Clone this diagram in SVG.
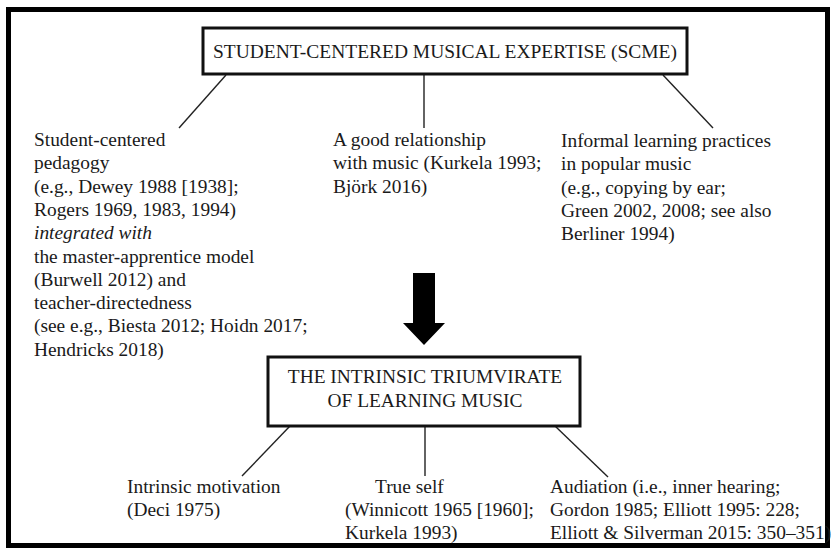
<svg xmlns="http://www.w3.org/2000/svg" width="832" height="550" viewBox="0 0 832 550">
<style>
text{font-family:"Liberation Serif","Times New Roman",serif;font-size:19.4px;fill:#1a1a1a}
.c{text-anchor:middle}
.box{fill:#fff;stroke:#111;stroke-width:3}
.ln{stroke:#222;stroke-width:1.4;fill:none}
</style>
<rect x="0" y="0" width="832" height="550" fill="#fff"/>
<rect x="8.5" y="9.5" width="819" height="536" fill="none" stroke="#000" stroke-width="5"/>
<g id="connectors">
<line class="ln" x1="226" y1="75" x2="179" y2="128"/>
<line class="ln" x1="424" y1="75" x2="424" y2="128"/>
<line class="ln" x1="663" y1="75" x2="713" y2="128"/>
<polygon points="413,273 435,273 435,323 445,323 424,345 403,323 413,323" fill="#000"/>
<line class="ln" x1="290" y1="426" x2="242" y2="476"/>
<line class="ln" x1="425" y1="426" x2="425" y2="476"/>
<line class="ln" x1="555" y1="426" x2="608" y2="477"/>
</g>
<g id="scme">
<rect class="box" x="203" y="28" width="484" height="46"/>
<text class="c" x="445" y="58" textLength="464" lengthAdjust="spacingAndGlyphs">STUDENT-CENTERED MUSICAL EXPERTISE (SCME)</text>
</g>
<g id="pedagogy">
<text x="34" y="146">Student-centered</text>
<text x="34" y="169.3">pedagogy</text>
<text x="34" y="192.6">(e.g., Dewey 1988 [1938];</text>
<text x="34" y="215.9">Rogers 1969, 1983, 1994)</text>
<text x="34" y="239.2" font-style="italic">integrated with</text>
<text x="34" y="262.5">the master-apprentice model</text>
<text x="34" y="285.8">(Burwell 2012) and</text>
<text x="34" y="309.1">teacher-directedness</text>
<text x="34" y="332.4">(see e.g., Biesta 2012; Hoidn 2017;</text>
<text x="34" y="355.7">Hendricks 2018)</text>
</g>
<g id="relationship">
<text x="333" y="146">A good relationship</text>
<text x="333" y="169.3">with music (Kurkela 1993;</text>
<text x="333" y="192.6">Björk 2016)</text>
</g>
<g id="informal">
<text x="561" y="147">Informal learning practices</text>
<text x="561" y="170.3">in popular music</text>
<text x="561" y="193.6">(e.g., copying by ear;</text>
<text x="561" y="216.9">Green 2002, 2008; see also</text>
<text x="561" y="240.2">Berliner 1994)</text>
</g>
<g id="triumvirate">
<rect class="box" x="268" y="357" width="312" height="69"/>
<text class="c" x="425" y="383">THE INTRINSIC TRIUMVIRATE</text>
<text class="c" x="425" y="407">OF LEARNING MUSIC</text>
</g>
<g id="motivation">
<text x="127" y="493">Intrinsic motivation</text>
<text x="127" y="516">(Deci 1975)</text>
</g>
<g id="trueself">
<text x="375" y="493">True self</text>
<text x="345" y="516">(Winnicott 1965 [1960];</text>
<text x="345" y="539">Kurkela 1993)</text>
</g>
<g id="audiation">
<text x="550" y="493">Audiation (i.e., inner hearing;</text>
<text x="550" y="516">Gordon 1985; Elliott 1995: 228;</text>
<text x="550" y="539">Elliott &amp; Silverman 2015: 350–351)</text>
</g>
</svg>
